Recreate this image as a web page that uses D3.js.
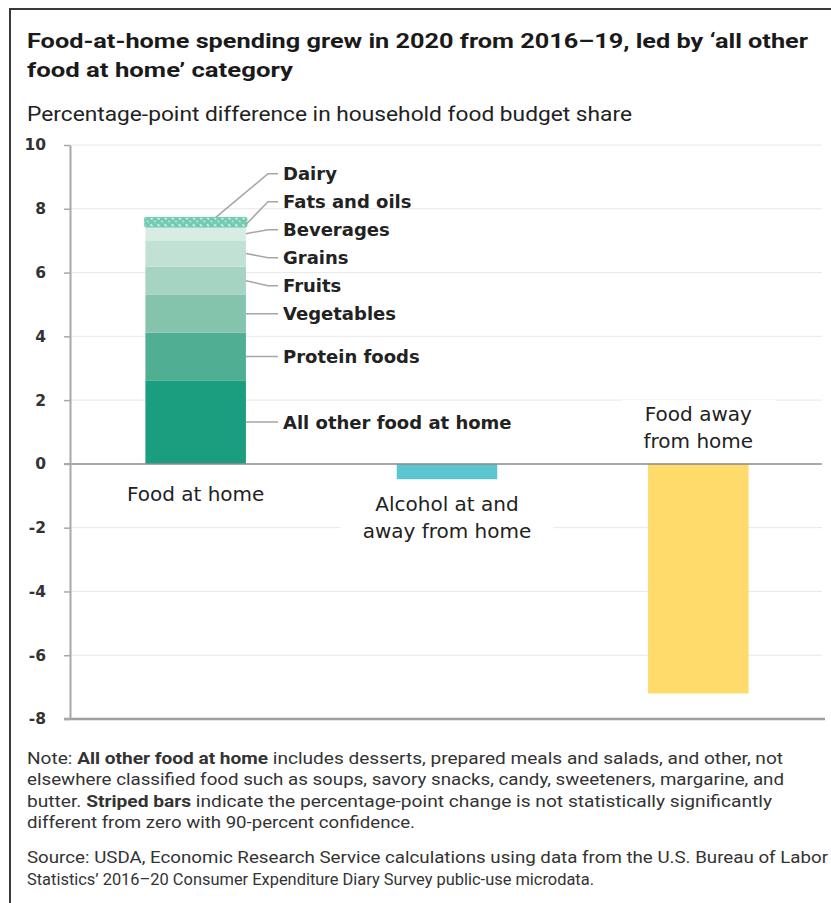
<!DOCTYPE html>
<html><head><meta charset="utf-8">
<script src="https://cdn.jsdelivr.net/npm/d3@7"></script>
<style>body{margin:0;background:#fff}svg{display:block}</style>
</head><body>
<svg id="chart" width="831" height="903"></svg>
<script>
// ---------- DATA ----------
const titleLines = ["Food-at-home spending grew in 2020 from 2016\u201319, led by \u2018all other", "food at home\u2019 category"];
const subtitle = "Percentage-point difference in household food budget share";
const categories = ["Food at home", "Alcohol at and away from home", "Food away from home"];
const categoryLabelLines = [["Food at home"], ["Alcohol at and", "away from home"], ["Food away", "from home"]];
const componentNames = ["All other food at home", "Protein foods", "Vegetables", "Fruits", "Grains", "Beverages", "Fats and oils", "Dairy"];
const componentValues = [2.62, 1.50, 1.18, 0.89, 0.82, 0.42, 0.15, 0.15];
const componentSignificant = [true, true, true, true, true, true, false, false];
const alcoholValue = -0.48;
const foodAwayValue = -7.2;
const yTicks = [-8, -6, -4, -2, 0, 2, 4, 6, 8, 10];
const noteLines = [
  [["Note: ", false], ["All other food at home", true], [" includes desserts, prepared meals and salads, and other, not", false]],
  [["elsewhere classified food such as soups, savory snacks, candy, sweeteners, margarine, and", false]],
  [["butter. ", false], ["Striped bars", true], [" indicate the percentage-point change is not statistically significantly", false]],
  [["different from zero with 90-percent confidence.", false]]
];
const sourceLines = [
  "Source: USDA, Economic Research Service calculations using data from the U.S. Bureau of Labor",
  "Statistics\u2019 2016\u201320 Consumer Expenditure Diary Survey public-use microdata."
];

// ---------- STYLE ----------
const componentColors = ["#1a9e7f", "#50af92", "#84c4ac", "#a5d4c2", "#c2e1d5", "#d7ece4", "#6fcab0", "#6fcab0"];
const alcoholColor = "#5bc5d2";
const foodAwayColor = "#fedb6b";
const sansCond = "Roboto, 'Liberation Sans', Arial, sans-serif";
const sansWide = "'DejaVu Sans', Verdana, sans-serif";

const svg = d3.select("#chart");
const defs = svg.append("defs");
const pat = defs.append("pattern").attr("id", "hatch").attr("patternUnits", "userSpaceOnUse")
  .attr("width", 5).attr("height", 5).attr("patternTransform", "rotate(45)");
pat.append("rect").attr("width", 5).attr("height", 5).attr("fill", "#6fcab0");
pat.append("rect").attr("x", 0).attr("y", 1.5).attr("width", 3).attr("height", 1.6).attr("fill", "#ffffff").attr("opacity", 0.85);

// frame
svg.append("rect").attr("x", 10).attr("y", 9).attr("width", 900).attr("height", 1000)
  .attr("fill", "none").attr("stroke", "#3a3a3a").attr("stroke-width", 2);

// titles
const title = svg.append("g");
const titleWidths = [781, 266];
titleLines.forEach((t, i) => {
  title.append("text").attr("x", 27).attr("y", 48 + i * 29)
    .attr("font-family", sansCond).attr("font-weight", 700).attr("font-size", 20.5)
    .attr("fill", "#1a1a1a").attr("textLength", titleWidths[i]).attr("lengthAdjust", "spacingAndGlyphs").text(t);
});
svg.append("text").attr("x", 27).attr("y", 121)
  .attr("font-family", sansCond).attr("font-size", 19.5).attr("fill", "#222")
  .attr("textLength", 605).attr("lengthAdjust", "spacingAndGlyphs").text(subtitle);

// scales
const x = d3.scaleBand().domain(categories).range([70, 824]).paddingInner(0.6).paddingOuter(0.3);
const y = d3.scaleLinear().domain([-8, 10]).range([719, 145]);
const bw = x.bandwidth();

// gridlines
svg.append("g").selectAll("line").data(yTicks.filter(d => d !== 0 && d !== -8)).join("line")
  .attr("x1", 70).attr("x2", 822).attr("y1", d => y(d)).attr("y2", d => y(d))
  .attr("stroke", "#e8e8e8").attr("stroke-width", 1);

// bars
const xf = x(categories[0]);
const cum = d3.cumsum(componentValues);
const segs = componentValues.map((v, i) => ({
  name: componentNames[i], v, y0: i ? cum[i - 1] : 0, y1: cum[i], sig: componentSignificant[i], color: componentColors[i]
}));
const gBars = svg.append("g");
gBars.selectAll("rect.seg").data(segs).join("rect").attr("class", "seg")
  .attr("x", d => d.sig ? xf : xf - 1).attr("width", d => d.sig ? bw : bw + 2)
  .attr("y", d => y(d.y1)).attr("height", d => y(d.y0) - y(d.y1))
  .attr("rx", d => d.sig ? 0 : 1.5)
  .attr("fill", d => d.sig ? d.color : "url(#hatch)")
  .attr("stroke", d => d.sig ? "none" : "#6fcab0").attr("stroke-width", d => d.sig ? 0 : 1);

const others = [{c: categories[1], v: alcoholValue, color: alcoholColor}, {c: categories[2], v: foodAwayValue, color: foodAwayColor}];
gBars.selectAll("rect.oth").data(others).join("rect").attr("class", "oth")
  .attr("x", d => x(d.c)).attr("width", bw)
  .attr("y", d => y(Math.max(0, d.v))).attr("height", d => Math.abs(y(d.v) - y(0)))
  .attr("fill", d => d.color);

// axes lines
svg.append("line").attr("x1", 64).attr("x2", 822).attr("y1", y(0)).attr("y2", y(0))
  .attr("stroke", "#8a8a8a").attr("stroke-width", 1.5);
svg.append("line").attr("x1", 64).attr("x2", 825).attr("y1", y(-8)).attr("y2", y(-8))
  .attr("stroke", "#a0a0a0").attr("stroke-width", 2.5);

const yAxis = svg.append("g").attr("transform", "translate(70,0)")
  .call(d3.axisLeft(y).tickValues(yTicks).tickSize(6).tickSizeOuter(0).tickPadding(18).tickFormat(d => String(d)));
yAxis.select(".domain").attr("stroke", "#a8a8a8").attr("stroke-width", 2);
yAxis.selectAll(".tick line").attr("stroke", "#a8a8a8").attr("stroke-width", 1.5);
yAxis.selectAll(".tick text").attr("font-family", sansWide).attr("font-weight", 700)
  .attr("font-size", 15.5).attr("fill", "#333");

// component labels with leaders
const gap = 28;
const mids = segs.map(d => y((d.y0 + d.y1) / 2));
const labelY = [];
mids.forEach((m, i) => {
  if (i === 0) { labelY[i] = m; return; }
  const lim = labelY[i - 1] - gap;
  labelY[i] = m > lim - 8 ? lim : m;
});
const gLab = svg.append("g");
segs.forEach((d, i) => {
  const top = i === segs.length - 1;
  const ax = top ? xf + bw * 0.7 : xf + bw;
  const ay = top ? y(d.y1) : mids[i];
  const ly = labelY[i];
  const pts = Math.abs(ly - ay) < 0.5 ? [[ax, ay], [278, ly]] : [[ax, ay], [268, ly], [278, ly]];
  gLab.append("path").attr("d", d3.line()(pts)).attr("fill", "none")
    .attr("stroke", "#a6a6a6").attr("stroke-width", 1.5);
  gLab.append("text").attr("x", 283).attr("y", ly).attr("dy", "0.36em")
    .attr("font-family", sansWide).attr("font-weight", 700).attr("font-size", 18)
    .attr("fill", "#222").text(d.name);
});

// category labels
const catVals = [cum[cum.length - 1], alcoholValue, foodAwayValue];
const gCat = svg.append("g");
categories.forEach((c, i) => {
  const v = catVals[i];
  const lines = categoryLabelLines[i];
  const cx = x(c) + bw / 2;
  let ys;
  if (v >= 0) ys = lines.map((_, k) => y(0) + 30 + k * 27);
  else if (y(v) - y(0) < 60) ys = lines.map((_, k) => y(v) + 25 + k * 27);
  else ys = lines.map((_, k) => y(0) - 23 - (lines.length - 1 - k) * 27);
  const g = gCat.append("g");
  const texts = lines.map((t, k) => g.append("text").attr("x", cx).attr("y", ys[k]).attr("dy", "0.36em")
    .attr("text-anchor", "middle").attr("font-family", sansWide).attr("font-size", 20)
    .attr("fill", "#222").text(t));
  if (v < 0) {
    let w = d3.max(texts, t => t.node().getComputedTextLength());
    g.insert("rect", "text").attr("x", cx - w / 2 - 22).attr("width", w + 44)
      .attr("y", ys[0] - 14).attr("height", ys[ys.length - 1] - ys[0] + 28).attr("fill", "#fff");
  }
});

// notes
const noteWidths = [756, 757, 745, 388];
noteLines.forEach((parts, i) => {
  const t = svg.append("text").attr("x", 27).attr("y", 764 + i * 21.3)
    .attr("font-family", sansCond).attr("font-size", 16.5).attr("fill", "#333")
    .attr("textLength", noteWidths[i]).attr("lengthAdjust", "spacingAndGlyphs");
  parts.forEach(([s, b]) => t.append("tspan").attr("font-weight", b ? 700 : 400).text(s));
});
const sourceWidths = [801, 567];
sourceLines.forEach((s, i) => {
  svg.append("text").attr("x", 27).attr("y", 863 + i * 22)
    .attr("font-family", sansCond).attr("font-size", 16.5).attr("fill", "#333")
    .attr("textLength", sourceWidths[i]).attr("lengthAdjust", "spacingAndGlyphs").text(s);
});
</script>
</body></html>
